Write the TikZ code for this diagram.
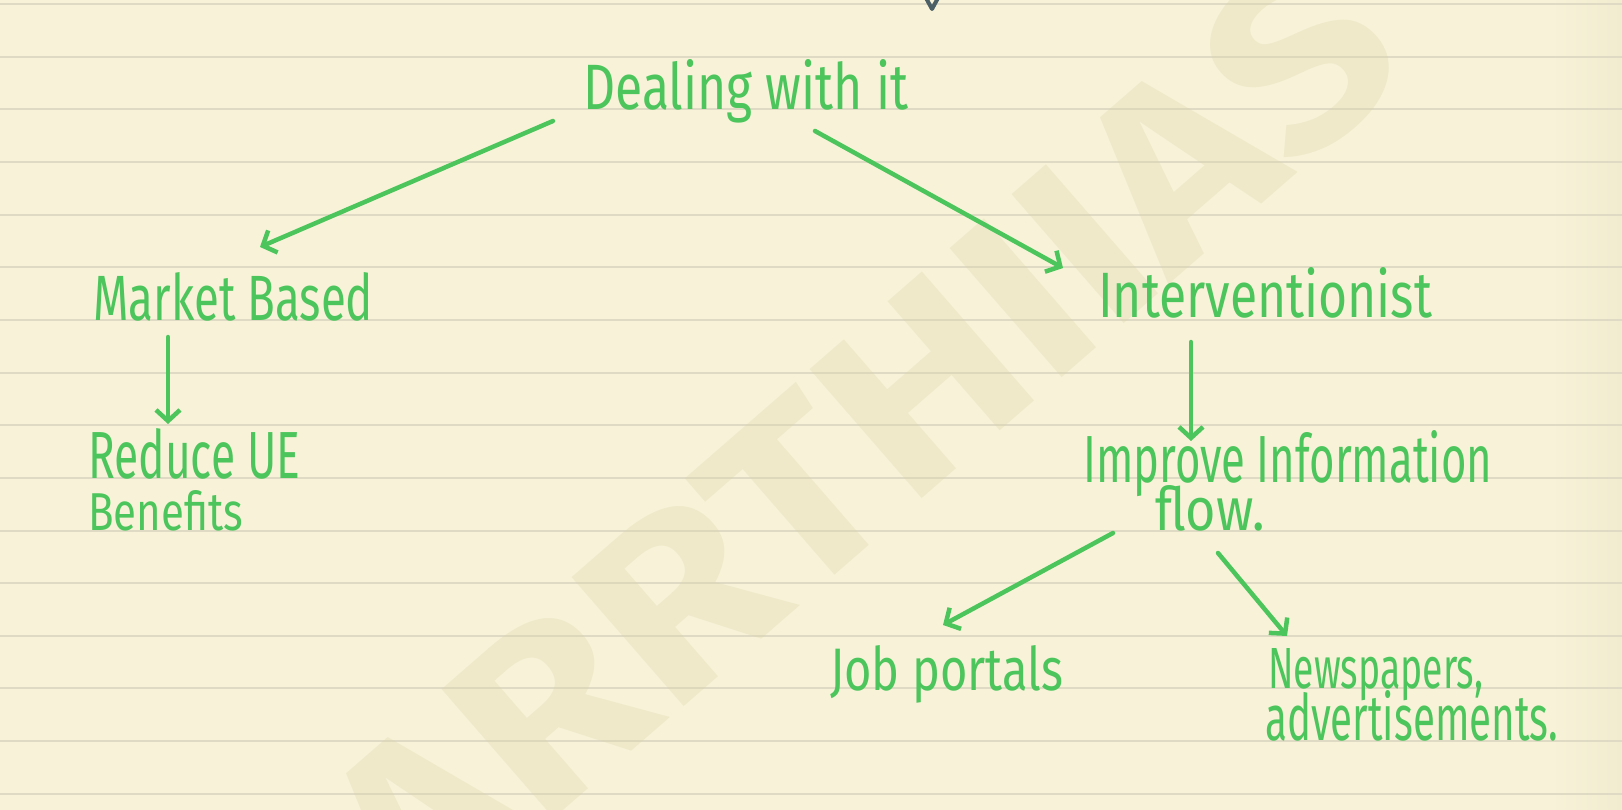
\documentclass[tikz,border=0pt]{standalone}
\usepackage{fontspec}
\usepackage{graphicx}
\setmainfont{Fira Sans}
\usetikzlibrary{arrows.meta}
\definecolor{paper}{HTML}{F8F3D8}
\definecolor{paperdark}{HTML}{F1ECD0}
\definecolor{rule}{HTML}{DFDAC4}
\definecolor{pen}{HTML}{4CC55C}
\definecolor{wm}{HTML}{D9CFA5}
\definecolor{ink}{HTML}{4B5F66}
\newcommand{\hw}[3]{\resizebox{#1pt}{#2pt}{#3}}
\begin{document}
\begin{tikzpicture}[x=1pt,y=-1pt,
  txt/.style={anchor=base west, inner sep=0pt, text=pen, font=\fontsize{40}{40}\selectfont},
  arr/.style={draw=pen, line width=4.5pt, line cap=round, line join=round,
              -{Straight Barb[length=11pt,width=24pt]}}]
\useasboundingbox (0,0) rectangle (1622,810);
\clip (0,0) rectangle (1622,810);
\fill[paper] (0,0) rectangle (1622,810);
\shade[left color=paper, right color=paperdark] (1550,0) rectangle (1622,810);
\foreach \k in {0,...,15} \draw[rule, line width=2pt] (0,{4+52.65*\k}) -- (1622,{4+52.65*\k});
% watermark
\node[rotate=41, text=wm, opacity=0.27, inner sep=0pt] (wmk) at (860,440)
  {\resizebox{1320pt}{175pt}{\bfseries ARRTHIIAS}};
% stray mark from the line above
\draw[ink, line width=4pt, line cap=round, line join=round] (926,-2) -- (932,9) -- (938,-2);
% texts
\node[txt] (deal) at (583,110) {\hw{325}{50}{Dealing with it}};
\node[txt] (market) at (93,320) {\hw{280}{48}{Market Based}};
\node[txt] (reduce) at (88,478) {\hw{212}{50}{Reduce UE}};
\node[txt] (benefits) at (88,530) {\hw{155}{40}{Benefits}};
\node[txt] (interv) at (1098,318) {\hw{334}{50}{Interventionist}};
\node[txt] (improve) at (1083,482) {\hw{409}{52}{Improve Information}};
\node[txt] (flow) at (1155,530) {\hw{110}{45}{flow.}};
\node[txt] (job) at (830,690) {\hw{233}{45}{Job portals}};
\node[txt] (news) at (1268,688) {\hw{215}{40}{Newspapers,}};
\node[txt] (adv) at (1265,740) {\hw{293}{50}{advertisements.}};
% arrows
\draw[arr] ([shift={(-30,11)}]deal.base west) -- ([shift={(167,-73)}]market.base west);
\draw[arr] ([shift={(232,21)}]deal.base west) -- ([shift={(-35,-50)}]interv.base west);
\draw[arr] ([shift={(75,17)}]market.base west) -- ([shift={(80,-54)}]reduce.base west);
\draw[arr] ([shift={(93,24)}]interv.base west) -- ([shift={(108,-41)}]improve.base west);
\draw[arr] ([shift={(30,51)}]improve.base west) -- ([shift={(113,-65)}]job.base west);
\draw[arr] ([shift={(135,71)}]improve.base west) -- ([shift={(19,-52)}]news.base west);
\end{tikzpicture}
\end{document}
